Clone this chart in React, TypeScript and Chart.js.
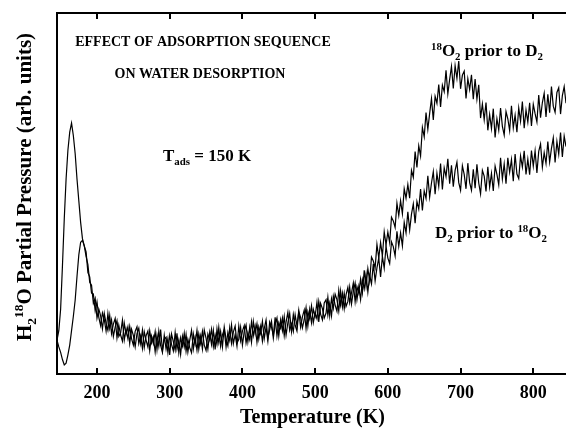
import React, { useEffect, useRef } from 'react';
import { Chart, registerables } from 'chart.js';

Chart.register(...registerables);

// Temperature grid (K)
const temperatures = [
  145, 147.5, 150, 152.5, 155, 157.5, 160, 162.5, 165, 167.5,
  170, 172.5, 175, 177.5, 180, 182.5, 185, 187.5, 190, 192.5,
  195, 197.5, 200, 202.5, 205, 207.5, 210, 212.5, 215, 217.5,
  220, 222.5, 225, 227.5, 230, 232.5, 235, 237.5, 240, 242.5,
  245, 247.5, 250, 252.5, 255, 257.5, 260, 262.5, 265, 267.5,
  270, 272.5, 275, 277.5, 280, 282.5, 285, 287.5, 290, 292.5,
  295, 297.5, 300, 302.5, 305, 307.5, 310, 312.5, 315, 317.5,
  320, 322.5, 325, 327.5, 330, 332.5, 335, 337.5, 340, 342.5,
  345, 347.5, 350, 352.5, 355, 357.5, 360, 362.5, 365, 367.5,
  370, 372.5, 375, 377.5, 380, 382.5, 385, 387.5, 390, 392.5,
  395, 397.5, 400, 402.5, 405, 407.5, 410, 412.5, 415, 417.5,
  420, 422.5, 425, 427.5, 430, 432.5, 435, 437.5, 440, 442.5,
  445, 447.5, 450, 452.5, 455, 457.5, 460, 462.5, 465, 467.5,
  470, 472.5, 475, 477.5, 480, 482.5, 485, 487.5, 490, 492.5,
  495, 497.5, 500, 502.5, 505, 507.5, 510, 512.5, 515, 517.5,
  520, 522.5, 525, 527.5, 530, 532.5, 535, 537.5, 540, 542.5,
  545, 547.5, 550, 552.5, 555, 557.5, 560, 562.5, 565, 567.5,
  570, 572.5, 575, 577.5, 580, 582.5, 585, 587.5, 590, 592.5,
  595, 597.5, 600, 602.5, 605, 607.5, 610, 612.5, 615, 617.5,
  620, 622.5, 625, 627.5, 630, 632.5, 635, 637.5, 640, 642.5,
  645, 647.5, 650, 652.5, 655, 657.5, 660, 662.5, 665, 667.5,
  670, 672.5, 675, 677.5, 680, 682.5, 685, 687.5, 690, 692.5,
  695, 697.5, 700, 702.5, 705, 707.5, 710, 712.5, 715, 717.5,
  720, 722.5, 725, 727.5, 730, 732.5, 735, 737.5, 740, 742.5,
  745, 747.5, 750, 752.5, 755, 757.5, 760, 762.5, 765, 767.5,
  770, 772.5, 775, 777.5, 780, 782.5, 785, 787.5, 790, 792.5,
  795, 797.5, 800, 802.5, 805, 807.5, 810, 812.5, 815, 817.5,
  820, 822.5, 825, 827.5, 830, 832.5, 835, 837.5, 840, 842.5,
  845,
];

// 18O2 prior to D2 (arb. units)
const o18PriorToD2 = [
  9.4, 12, 18, 30, 43, 54, 62, 67, 69.5, 66,
  61, 54, 48, 42, 37.5, 35.5, 33.8, 28.1, 26.9, 22.4,
  22.2, 17.5, 20.0, 15.7, 13.4, 16.9, 15.1, 11.9, 16.8, 12.6,
  15.0, 10.4, 13.0, 14.8, 10.4, 11.4, 14.9, 9.4, 12.4, 9.8,
  13.2, 9.8, 8.0, 11.8, 13.1, 8.4, 10.6, 7.1, 11.7, 9.4,
  7.5, 12.0, 8.6, 10.3, 6.1, 10.8, 7.7, 12.3, 6.5, 9.6,
  10.2, 6.0, 10.7, 8.2, 6.4, 11.5, 6.9, 9.4, 5.4, 10.4,
  7.5, 11.0, 6.1, 9.3, 12.1, 6.9, 10.1, 6.6, 11.1, 8.4,
  11.8, 8.0, 6.5, 11.1, 9.4, 12.4, 7.6, 10.8, 8.2, 12.9,
  7.7, 10.8, 12.3, 7.5, 11.5, 9.3, 13.6, 8.4, 10.9, 7.7,
  13.3, 9.2, 11.9, 13.4, 8.6, 11.4, 9.5, 14.5, 10.6, 13.3,
  8.8, 13.1, 11.2, 14.6, 9.8, 13.0, 9.1, 14.4, 13.0, 10.7,
  15.7, 10.5, 14.2, 12.7, 15.5, 10.6, 14.4, 17.1, 12.1, 13.9,
  11.8, 16.4, 13.3, 17.6, 13.0, 15.8, 17.7, 12.6, 17.3, 15.3,
  18.9, 14.2, 16.9, 15.3, 20.1, 16.6, 15.0, 19.7, 20.6, 16.3,
  19.6, 16.1, 21.6, 19.1, 17.4, 23.2, 19.1, 22.4, 18.1, 21.9,
  24.0, 19.8, 22.5, 25.2, 20.0, 24.2, 22.4, 26.3, 22.5, 28.7,
  24.3, 29.2, 25.8, 32.4, 31.3, 29.4, 35.9, 32.2, 36.4, 32.7,
  39.4, 35.8, 39.3, 36.4, 43.4, 42.4, 40.6, 47.3, 43.9, 48.0,
  44.4, 51.3, 48.7, 52.5, 48.7, 56.4, 54.5, 61.6, 57.2, 63.2,
  60.4, 68.3, 65.7, 72.4, 67.8, 72.2, 76.3, 70.4, 76.9, 75.0,
  80.2, 74.0, 80.0, 78.2, 84.1, 77.6, 81.6, 85.2, 79.1, 85.4,
  81.9, 86.7, 79.0, 82.8, 83.9, 76.3, 81.8, 78.8, 82.9, 76.1,
  81.7, 76.1, 80.1, 70.9, 74.8, 70.4, 75.2, 67.5, 71.9, 68.0,
  73.5, 65.5, 70.7, 67.6, 73.7, 68.6, 66.2, 72.7, 70.7, 67.4,
  74.3, 68.2, 71.7, 67.0, 73.7, 70.0, 75.5, 68.1, 73.1, 69.8,
  75.1, 68.7, 74.7, 72.1, 69.8, 77.3, 71.0, 75.2, 77.8, 71.2,
  77.5, 72.4, 79.6, 74.2, 72.5, 78.0, 79.3, 72.0, 77.1, 79.6,
  75.0,
];

// D2 prior to 18O2 (arb. units)
const d2PriorToO18 = [
  9.4, 7.5, 6, 4, 2.5, 3, 5.3, 8, 12, 16,
  20.5, 27, 33, 36.5, 37, 35.5, 32.6, 30.3, 25.4, 24.6,
  19.6, 21.0, 15.5, 18.0, 16.1, 12.5, 16.8, 14.0, 12.1, 16.2,
  11.2, 13.8, 15.4, 10.0, 13.5, 10.8, 9.1, 14.1, 11.0, 13.1,
  8.4, 12.4, 10.7, 7.5, 11.2, 12.7, 8.5, 12.2, 7.4, 10.6,
  11.9, 6.5, 10.5, 8.4, 11.7, 6.8, 11.9, 7.9, 6.0, 10.7,
  6.9, 9.8, 5.3, 11.1, 9.0, 6.6, 11.3, 5.9, 10.0, 7.7,
  11.3, 6.3, 9.6, 7.3, 5.9, 11.1, 8.3, 12.1, 6.9, 10.5,
  6.9, 12.2, 9.9, 6.9, 11.5, 8.2, 12.1, 6.8, 12.5, 8.7,
  11.8, 7.5, 13.0, 9.7, 7.8, 12.8, 8.5, 11.6, 13.3, 8.5,
  9.6, 13.0, 8.0, 11.8, 13.6, 8.9, 12.9, 8.8, 14.6, 11.2,
  13.9, 9.7, 13.1, 9.1, 12.6, 15.0, 9.8, 12.2, 14.6, 9.9,
  13.7, 15.5, 10.5, 15.0, 12.0, 15.9, 10.8, 14.2, 16.8, 11.8,
  16.5, 13.5, 11.9, 17.3, 15.7, 12.8, 15.1, 18.4, 13.3, 17.9,
  14.2, 17.9, 16.0, 19.9, 14.4, 19.6, 18.1, 15.5, 16.9, 21.3,
  16.1, 20.9, 18.2, 22.1, 20.6, 17.4, 23.0, 18.6, 22.4, 18.7,
  20.1, 24.1, 19.4, 22.9, 25.2, 20.6, 24.2, 20.6, 26.1, 23.6,
  27.6, 22.7, 27.3, 25.0, 30.5, 25.8, 29.4, 32.1, 26.9, 32.6,
  29.3, 35.3, 32.1, 30.6, 36.6, 35.3, 32.7, 39.5, 35.4, 39.1,
  35.5, 42.0, 39.1, 44.9, 39.9, 44.3, 47.1, 41.8, 47.8, 45.7,
  51.2, 45.3, 50.7, 48.6, 54.9, 49.0, 52.9, 56.1, 49.8, 55.6,
  52.0, 58.3, 51.1, 57.1, 54.7, 59.6, 52.7, 57.8, 51.9, 56.4,
  58.7, 53.0, 50.9, 57.7, 55.3, 51.3, 58.4, 53.0, 50.9, 56.7,
  51.5, 58.1, 52.9, 49.9, 56.4, 54.8, 50.6, 57.4, 51.8, 55.6,
  50.7, 57.6, 55.3, 52.4, 59.9, 54.0, 58.2, 52.7, 59.9, 55.9,
  59.4, 53.4, 60.9, 55.4, 54.1, 60.4, 57.3, 61.8, 55.3, 59.5,
  55.2, 61.9, 57.6, 61.8, 55.7, 61.7, 63.7, 57.3, 61.3, 58.3,
  64.4, 58.7, 62.5, 65.4, 58.6, 64.4, 60.9, 66.9, 60.1, 65.9,
  63.0,
];

const xTicks = [200, 300, 400, 500, 600, 700, 800];

const FONT = "'Liberation Serif', 'Times New Roman', serif";

type Seg = { t: string; k?: 'sub' | 'sup' };

function drawRich(
  ctx: CanvasRenderingContext2D,
  segs: Seg[],
  x: number,
  y: number,
  size: number,
  align: 'left' | 'center',
  rotate = 0
) {
  ctx.save();
  ctx.translate(x, y);
  if (rotate) ctx.rotate(rotate);
  const small = size * 0.64;
  const widths = segs.map((s) => {
    ctx.font = `bold ${s.k ? small : size}px ${FONT}`;
    return ctx.measureText(s.t).width;
  });
  const total = widths.reduce((a, b) => a + b, 0);
  let cx = align === 'center' ? -total / 2 : 0;
  ctx.fillStyle = '#000';
  ctx.textBaseline = 'alphabetic';
  ctx.textAlign = 'left';
  segs.forEach((s, i) => {
    ctx.font = `bold ${s.k ? small : size}px ${FONT}`;
    let dy = 0;
    if (s.k === 'sub') dy = size * 0.25;
    if (s.k === 'sup') dy = -size * 0.38;
    ctx.fillText(s.t, cx, dy);
    cx += widths[i];
  });
  ctx.restore();
}

const framePlugin = {
  id: 'frameAndText',
  afterDraw(chart: any) {
    const { ctx, chartArea, scales } = chart;
    const { left, right, top, bottom } = chartArea;
    const xs = scales.x;
    ctx.save();
    ctx.strokeStyle = '#000';
    ctx.lineWidth = 2;
    ctx.beginPath();
    ctx.moveTo(right + 2, top);
    ctx.lineTo(left, top);
    ctx.lineTo(left, bottom);
    ctx.lineTo(right + 2, bottom);
    ctx.stroke();
    // inward ticks
    ctx.beginPath();
    xTicks.forEach((v) => {
      const px = Math.round(xs.getPixelForValue(v));
      ctx.moveTo(px, bottom);
      ctx.lineTo(px, bottom - 6);
      ctx.moveTo(px, top);
      ctx.lineTo(px, top + 6);
    });
    ctx.stroke();
    // tick labels
    ctx.fillStyle = '#000';
    ctx.font = `bold 18px ${FONT}`;
    ctx.textAlign = 'center';
    ctx.textBaseline = 'alphabetic';
    xTicks.forEach((v) => {
      ctx.fillText(String(v), xs.getPixelForValue(v), 398);
    });
    // axis titles
    ctx.font = `bold 20px ${FONT}`;
    ctx.fillText('Temperature (K)', (left + right) / 2 + 1, 423);
    ctx.restore();

    drawRich(
      ctx,
      [
        { t: 'H' },
        { t: '2', k: 'sub' },
        { t: '18', k: 'sup' },
        { t: 'O Partial Pressure (arb. units)' },
      ],
      31,
      187,
      21,
      'center',
      -Math.PI / 2
    );

    drawRich(ctx, [{ t: 'EFFECT OF ADSORPTION SEQUENCE' }], 203, 46, 14, 'center');
    drawRich(ctx, [{ t: 'ON WATER DESORPTION' }], 200, 78, 14, 'center');
    drawRich(
      ctx,
      [{ t: 'T' }, { t: 'ads', k: 'sub' }, { t: ' = 150 K' }],
      163,
      161,
      17,
      'left'
    );
    drawRich(
      ctx,
      [{ t: '18', k: 'sup' }, { t: 'O' }, { t: '2', k: 'sub' }, { t: ' prior to D' }, { t: '2', k: 'sub' }],
      431,
      56,
      17,
      'left'
    );
    drawRich(
      ctx,
      [{ t: 'D' }, { t: '2', k: 'sub' }, { t: ' prior to ' }, { t: '18', k: 'sup' }, { t: 'O' }, { t: '2', k: 'sub' }],
      435,
      238,
      17,
      'left'
    );
  },
};

export default function App() {
  const ref = useRef<HTMLCanvasElement | null>(null);
  useEffect(() => {
    document.body.style.margin = '0';
    const canvas = ref.current!;
    const mk = (ys: number[]) => temperatures.map((t, i) => ({ x: t, y: ys[i] }));
    const chart = new Chart(canvas, {
      type: 'line',
      data: {
        datasets: [
          {
            label: '18O2 prior to D2',
            data: mk(o18PriorToD2),
            borderColor: '#000',
            borderWidth: 1.2,
            pointRadius: 0,
            tension: 0,
            fill: false,
          },
          {
            label: 'D2 prior to 18O2',
            data: mk(d2PriorToO18),
            borderColor: '#000',
            borderWidth: 1.2,
            pointRadius: 0,
            tension: 0,
            fill: false,
          },
        ],
      },
      options: {
        responsive: false,
        animation: false,
        layout: { padding: { left: 57, top: 13, right: 0, bottom: 55 } },
        plugins: { legend: { display: false }, tooltip: { enabled: false } },
        scales: {
          x: { type: 'linear', min: 145, max: 845, display: false },
          y: { type: 'linear', min: 0, max: 100, display: false },
        },
      },
      plugins: [framePlugin],
    });
    return () => chart.destroy();
  }, []);
  return (
    <div style={{ position: 'absolute', left: 0, top: 0, width: 566, height: 429, background: '#fff' }}>
      <canvas ref={ref} width={566} height={429} />
    </div>
  );
}
